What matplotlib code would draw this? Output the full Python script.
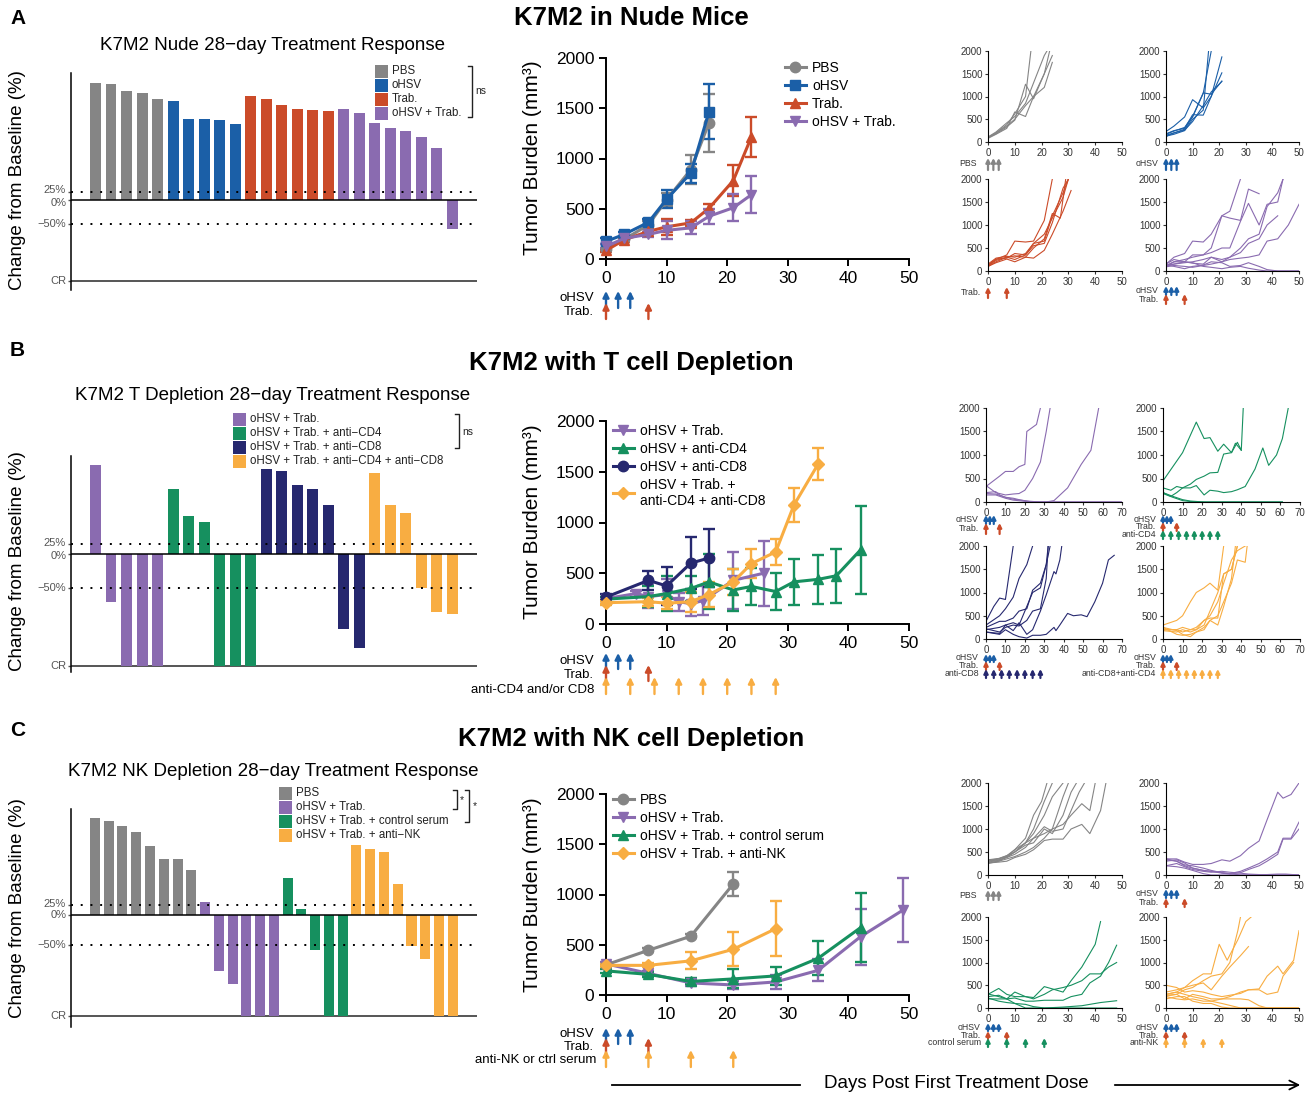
import numpy as np
import matplotlib
matplotlib.use("Agg")
import matplotlib.pyplot as plt
import matplotlib.transforms as mtransforms
from matplotlib.lines import Line2D
from matplotlib.patches import Rectangle, FancyArrowPatch

plt.rcParams['font.family'] = ['Liberation Sans', 'DejaVu Sans']

W, H = 1314, 1097

GRAY = '#858585'
BLUE = '#1b5fa7'
RED = '#cb4b29'
PURPLE = '#8a6bb0'
GREEN = '#16905f'
NAVY = '#26286f'
ORANGE = '#f8ad42'

# ---- waterfall data (plotted scale: 25% line at 16, -50% at -50, CR at -167)
WF_TICK_POS = [16, 0, -50, -167]
WF_TICK_LABELS = ['25%', '0%', '\u221250%', 'CR']

WF_A_LABELS = ['PBS', 'oHSV', 'Trab.', 'oHSV + Trab.']
WF_A_COLORS = [GRAY, BLUE, RED, PURPLE]
WF_A_PBS = [240, 238, 225, 220, 207]
WF_A_OHSV = [204, 166, 166, 165, 157]
WF_A_TRAB = [214, 208, 196, 187, 185, 183]
WF_A_COMBO = [187, 179, 159, 148, 142, 130, 107, -60]

WF_B_LABELS = ['oHSV + Trab.', 'oHSV + Trab. + anti\u2212CD4',
               'oHSV + Trab. + anti\u2212CD8', 'oHSV + Trab. + anti\u2212CD4 + anti\u2212CD8']
WF_B_COLORS = [PURPLE, GREEN, NAVY, ORANGE]
WF_B_COMBO = [133, -72, -167, -167, -167]
WF_B_CD4 = [98, 58, 49, -167, -167, -167]
WF_B_CD8 = [127, 124, 104, 98, 73, -111, -140]
WF_B_BOTH = [122, 74, 62, -50, -87, -90]

WF_C_LABELS = ['PBS', 'oHSV + Trab.', 'oHSV + Trab. + control serum', 'oHSV + Trab. + anti\u2212NK']
WF_C_COLORS = [GRAY, PURPLE, GREEN, ORANGE]
WF_C_PBS = [159, 154, 146, 136, 113, 91, 91, 74]
WF_C_COMBO = [21, -92, -114, -167, -167, -167]
WF_C_CTRL = [60, 9, -58, -167, -167]
WF_C_NK = [115, 108, 103, 51, -51, -73, -167, -167]

# ---- mean tumour burden (days, mean, sem)
A_PBS = ([0, 3, 7, 10, 14, 17], [95, 195, 340, 590, 890, 1355], [15, 30, 40, 65, 140, 290])
A_OHSV = ([0, 3, 7, 10, 14, 17], [175, 245, 365, 595, 855, 1465], [30, 25, 30, 90, 95, 275])
A_TRAB = ([0, 3, 7, 10, 14, 17, 21, 24], [85, 190, 275, 320, 360, 505, 780, 1215],
          [15, 20, 25, 80, 30, 40, 155, 200])
A_COMBO = ([0, 3, 7, 10, 14, 17, 21, 24], [125, 205, 245, 285, 310, 425, 510, 640],
           [20, 25, 25, 90, 65, 75, 135, 185])

B_COMBO = ([0, 5, 7, 10, 12, 14, 16, 21, 26], [250, 300, 270, 290, 220, 200, 230, 430, 500],
           [20, 30, 110, 150, 90, 120, 140, 280, 320])
B_CD4 = ([0, 7, 10, 14, 17, 21, 24, 28, 31, 35, 38, 42],
         [245, 270, 300, 350, 415, 335, 370, 320, 415, 440, 475, 730],
         [20, 100, 170, 120, 270, 210, 180, 180, 230, 240, 265, 430])
B_CD8 = ([0, 7, 10, 14, 17], [265, 430, 375, 600, 650], [30, 95, 190, 260, 290])
B_BOTH = ([0, 7, 10, 14, 17, 21, 24, 28, 31, 35],
          [210, 220, 205, 220, 290, 415, 595, 710, 1170, 1575],
          [20, 40, 60, 100, 120, 130, 140, 130, 165, 160])

C_PBS = ([0, 7, 14, 21], [300, 445, 585, 1105], [15, 20, 20, 120])
C_COMBO = ([0, 7, 14, 21, 28, 35, 42, 49], [310, 215, 120, 100, 130, 245, 580, 845],
           [20, 25, 35, 40, 70, 110, 280, 315])
C_CTRL = ([0, 7, 14, 21, 28, 35, 42], [240, 205, 135, 160, 190, 365, 670],
          [20, 25, 30, 95, 90, 170, 340])
C_NK = ([0, 7, 14, 21, 28], [295, 295, 340, 455, 660], [15, 20, 85, 170, 275])

# ---- dosing days
PBS_DAYS = [0, 2, 4]
OHSV_DAYS = [0, 2, 4]
TRAB_DAYS = [0, 7]
CD_DAYS = [0, 4, 8, 12, 16, 20, 24, 28]
NK_DAYS = [0, 7, 14, 21]

# ---- individual mice (days, volume)
SP_A_PBS = [
    ([0, 3, 7, 10, 14, 16], [90, 200, 380, 620, 1000, 2000]),
    ([0, 3, 7, 10, 14, 17, 21, 23], [100, 180, 330, 480, 1270, 950, 1500, 2000]),
    ([0, 3, 7, 10, 14, 17, 21, 24], [80, 170, 300, 660, 560, 1000, 1500, 1900]),
    ([0, 3, 7, 10, 14, 17, 21, 24], [100, 200, 350, 500, 800, 1000, 1200, 1750]),
    ([0, 3, 7, 10, 14, 17, 21, 22], [110, 220, 420, 560, 850, 1300, 1900, 2000]),
]
SP_A_OHSV = [
    ([0, 3, 7, 10, 14, 17], [150, 200, 280, 550, 1070, 2000]),
    ([0, 3, 7, 10, 14, 16], [130, 170, 250, 500, 700, 2000]),
    ([0, 3, 7, 10, 14, 17, 21], [230, 350, 550, 930, 750, 1000, 1870]),
    ([0, 3, 7, 10, 14, 17, 21], [180, 250, 300, 600, 590, 1000, 1520]),
    ([0, 3, 7, 10, 14, 17, 21], [120, 200, 260, 450, 800, 1100, 1330]),
    ([0, 3, 7, 10, 14, 17, 21], [170, 240, 320, 560, 1080, 1050, 1340]),
]
SP_A_TRAB = [
    ([0, 3, 7, 10, 14, 17, 21, 24], [120, 250, 350, 650, 630, 650, 1100, 2000]),
    ([0, 3, 7, 10, 14, 17, 21, 24, 28, 30], [100, 200, 300, 250, 350, 600, 650, 1200, 1700, 2000]),
    ([0, 3, 7, 10, 14, 17, 21, 24, 28, 31], [100, 180, 260, 200, 300, 280, 450, 800, 1300, 1750]),
    ([0, 3, 7, 10, 14, 17, 21, 24, 28, 30], [130, 260, 280, 380, 350, 550, 600, 1050, 1800, 2000]),
    ([0, 3, 7, 10, 14, 17, 21, 24, 27, 29], [110, 230, 300, 330, 300, 500, 700, 1250, 1150, 2000]),
    ([0, 3, 7, 10, 14, 17, 21, 24, 28, 30], [150, 280, 320, 300, 380, 600, 800, 1150, 1600, 2000]),
]
SP_A_COMBO = [
    ([0, 3, 7, 10, 14, 17, 21, 24, 28], [150, 300, 380, 650, 630, 800, 1200, 1300, 2000]),
    ([0, 3, 7, 10, 14, 17, 21, 24, 28, 31, 35], [100, 200, 200, 350, 350, 500, 1200, 1150, 1100, 1780, 1680]),
    ([0, 3, 7, 10, 14, 17, 21, 24, 28, 31, 35, 38, 42, 44],
     [120, 200, 250, 300, 350, 400, 500, 500, 1080, 1470, 1000, 1450, 1500, 2000]),
    ([0, 3, 7, 10, 14, 17, 21, 24, 28, 31, 35, 38, 42, 44],
     [130, 150, 200, 170, 150, 300, 200, 300, 500, 700, 800, 1400, 1700, 2000]),
    ([0, 3, 7, 10, 14, 17, 21, 24, 28, 31, 35, 38, 42],
     [100, 150, 180, 200, 250, 300, 250, 300, 400, 600, 700, 1000, 1200]),
    ([0, 3, 7, 10, 14, 17, 21, 24, 28, 31, 35, 38, 42, 46, 50],
     [90, 120, 100, 80, 120, 150, 200, 250, 280, 300, 350, 650, 700, 1000, 1450]),
    ([0, 3, 7, 10, 14, 17, 21, 24, 28, 31, 35, 38, 42, 50],
     [150, 250, 200, 180, 100, 80, 50, 80, 100, 60, 20, 0, 0, 0]),
    ([0, 3, 7, 10, 14, 17, 21, 24, 28, 31, 35, 38, 42, 50],
     [130, 100, 50, 100, 130, 200, 180, 100, 120, 180, 100, 30, 0, 0]),
]

SP_B_COMBO = [
    ([0, 7, 10, 14, 17, 20, 21, 26, 28], [330, 550, 650, 650, 750, 800, 1500, 1650, 2000]),
    ([0, 5, 10, 14, 17, 20, 24, 28, 31, 33], [350, 200, 150, 170, 180, 250, 500, 850, 1500, 2000]),
    ([0, 5, 7, 10, 14, 17, 21, 24, 28, 31, 35, 42, 49, 54, 58],
     [200, 220, 150, 100, 80, 50, 20, 0, 0, 0, 30, 300, 800, 1100, 2000]),
    ([0, 5, 10, 14, 21, 28, 35, 70], [180, 170, 100, 60, 20, 0, 0, 0]),
    ([0, 5, 10, 14, 21, 28, 35, 70], [150, 150, 80, 40, 10, 0, 0, 0]),
]
SP_B_CD4 = [
    ([0, 10, 17, 21, 24, 28, 31, 35, 38, 40, 41],
     [450, 1050, 1700, 1350, 1370, 1080, 1230, 1050, 1270, 1100, 2000]),
    ([0, 4, 7, 10, 14, 17, 21, 24, 28, 31, 35, 38, 42, 47, 51, 54, 58, 61, 64],
     [300, 250, 330, 300, 300, 350, 150, 250, 230, 200, 220, 260, 330, 700, 1150, 780, 1000, 1350, 2000]),
    ([0, 4, 7, 10, 14, 17, 21, 24, 28, 31, 35, 37, 40],
     [200, 120, 200, 300, 380, 480, 550, 620, 630, 1020, 1050, 1250, 1100]),
    ([0, 5, 10, 14, 21, 28, 61], [200, 120, 50, 20, 0, 0, 0]),
    ([0, 5, 10, 14, 21, 61], [180, 100, 30, 10, 0, 0]),
]
SP_B_CD8 = [
    ([0, 4, 7, 10, 14], [380, 700, 880, 850, 2000]),
    ([0, 7, 10, 14, 17, 21, 24], [300, 500, 650, 900, 1300, 1600, 2000]),
    ([0, 7, 10, 14, 17, 21, 24, 28, 31, 32], [250, 380, 380, 450, 600, 650, 1050, 1200, 1600, 2000]),
    ([0, 7, 10, 14, 17, 21, 24, 28, 31, 33], [200, 250, 300, 350, 300, 700, 1000, 1100, 1600, 2000]),
    ([0, 7, 10, 14, 17, 21, 24, 28, 31, 32], [220, 150, 250, 300, 280, 400, 600, 650, 1300, 2000]),
    ([0, 7, 10, 14, 17, 21, 24, 28, 31, 35, 36, 38, 39],
     [150, 120, 300, 180, 350, 100, 200, 600, 950, 1450, 1400, 1700, 2000]),
    ([0, 7, 10, 14, 17, 21, 24, 28, 31, 35, 36, 38, 42, 45, 49, 52, 56, 60, 63, 66],
     [150, 100, 200, 100, 50, 20, 80, 80, 100, 250, 180, 300, 550, 500, 520, 480, 800, 1200, 1700, 1800]),
]
SP_B_BOTH = [
    ([0, 7, 10, 14, 17, 21, 24, 28, 31], [300, 400, 500, 800, 1000, 1100, 1200, 1050, 2000]),
    ([0, 7, 10, 14, 17, 21, 24, 28, 31, 35, 38], [200, 200, 250, 200, 200, 300, 600, 1000, 1400, 1500, 2000]),
    ([0, 7, 10, 14, 17, 21, 24, 28, 31, 35, 38, 42],
     [180, 150, 200, 150, 200, 400, 500, 800, 1200, 1700, 1900, 2000]),
    ([0, 7, 10, 14, 17, 21, 24, 28, 31, 35, 38, 42, 43],
     [250, 100, 80, 100, 150, 250, 400, 500, 800, 1200, 1700, 1650, 2000]),
    ([0, 7, 10, 14, 17, 21, 24, 28, 31, 35, 38], [200, 200, 150, 200, 250, 400, 450, 450, 1400, 1500, 2000]),
    ([0, 7, 10, 14, 17, 21, 24, 28, 31, 35, 37], [250, 180, 100, 50, 150, 200, 400, 300, 700, 1300, 2000]),
]

SP_C_PBS = [
    ([0, 4, 7, 10, 14, 17, 20, 22], [300, 350, 400, 550, 800, 1300, 1600, 2000]),
    ([0, 4, 7, 10, 14, 17, 21, 24], [280, 320, 380, 500, 700, 1000, 1600, 2000]),
    ([0, 4, 7, 10, 14, 17, 21, 24, 28], [250, 300, 400, 500, 700, 900, 1300, 1700, 2000]),
    ([0, 4, 7, 10, 14, 17, 21, 24, 28, 31, 33], [320, 350, 420, 500, 650, 700, 1000, 900, 1300, 1800, 2000]),
    ([0, 4, 7, 10, 14, 17, 21, 24, 28, 31, 34, 36],
     [300, 330, 380, 450, 600, 800, 1050, 950, 1000, 1400, 1800, 2000]),
    ([0, 4, 7, 10, 14, 17, 21, 24, 28, 31, 35, 38, 40],
     [270, 300, 350, 400, 500, 600, 800, 1000, 1100, 1300, 1550, 1400, 2000]),
    ([0, 4, 7, 10, 14, 17, 21, 24, 28, 31, 35, 38, 42, 44],
     [260, 280, 300, 380, 450, 550, 750, 780, 780, 1000, 1100, 900, 1400, 2000]),
    ([0, 4, 7, 10, 14, 17, 21, 24, 28, 30], [330, 360, 420, 550, 700, 800, 900, 1000, 1700, 2000]),
]
SP_C_COMBO = [
    ([0, 4, 7, 10, 14, 17, 21, 24, 28, 31, 35, 38, 42, 44, 47, 50],
     [350, 350, 280, 230, 230, 250, 330, 300, 420, 580, 740, 1200, 1800, 1670, 1750, 2000]),
    ([0, 4, 7, 10, 14, 17, 21, 24, 28, 31, 35, 38, 42, 44, 47, 50],
     [330, 300, 220, 200, 150, 100, 50, 30, 80, 150, 250, 350, 500, 800, 800, 1150]),
    ([0, 4, 7, 10, 14, 17, 21, 24, 28, 31, 35, 38, 42, 44, 47, 50],
     [300, 330, 260, 150, 100, 80, 40, 20, 50, 120, 200, 300, 450, 780, 780, 1000]),
    ([0, 4, 7, 10, 14, 17, 21, 50], [200, 180, 150, 100, 30, 0, 0, 0]),
    ([0, 4, 7, 10, 14, 17, 21, 24, 28, 31, 35, 38, 42, 45, 50],
     [200, 250, 180, 120, 80, 60, 80, 60, 40, 20, 10, 10, 20, 20, 0]),
    ([0, 4, 7, 10, 14, 17, 21, 24, 28, 50], [350, 300, 200, 150, 100, 80, 50, 30, 0, 0]),
]
SP_C_CTRL = [
    ([0, 4, 7, 10, 14, 17, 21, 24, 28, 31, 35, 38, 40, 42],
     [300, 430, 300, 250, 250, 230, 470, 420, 350, 600, 900, 1200, 1400, 1900]),
    ([0, 4, 7, 10, 14, 17, 21, 24, 28, 31, 35, 38, 42, 45, 48],
     [250, 280, 200, 350, 250, 200, 300, 400, 450, 500, 600, 750, 750, 900, 1000]),
    ([0, 4, 7, 10, 14, 17, 21, 24, 28, 31, 35, 38, 42, 45, 48],
     [310, 250, 200, 220, 150, 150, 170, 170, 170, 250, 300, 550, 700, 1000, 1380]),
    ([0, 4, 7, 10, 14, 17, 21, 28, 35, 42, 48], [220, 150, 120, 100, 80, 30, 0, 20, 50, 120, 160]),
    ([0, 4, 7, 10, 14, 48], [200, 200, 200, 100, 0, 0]),
]
SP_C_NK = [
    ([0, 4, 7, 10, 14, 17, 20, 23, 27, 30, 32], [300, 350, 450, 600, 750, 750, 1400, 1050, 1500, 1900, 2000]),
    ([0, 4, 7, 10, 14, 17, 21, 24, 27, 28], [260, 300, 400, 450, 600, 700, 750, 1000, 1700, 2000]),
    ([0, 4, 7, 10, 14, 17, 21, 24, 28, 31], [350, 400, 450, 500, 550, 400, 700, 900, 1150, 1350]),
    ([0, 4, 7, 10, 14, 17, 21, 24, 28, 31, 35, 38, 42, 44, 48, 50],
     [500, 450, 350, 380, 350, 300, 250, 280, 320, 400, 420, 700, 920, 750, 1050, 1700]),
    ([0, 4, 7, 10, 14, 17, 21, 24, 28, 31, 35, 38, 42, 44, 48],
     [280, 300, 200, 300, 250, 200, 200, 250, 350, 400, 400, 300, 350, 700, 1000]),
    ([0, 4, 7, 10, 14, 17, 21, 24, 28, 31, 35, 38, 50], [250, 200, 180, 200, 150, 150, 200, 200, 200, 180, 50, 0, 0]),
    ([0, 4, 7, 10, 14, 17, 21, 24, 50], [200, 250, 250, 150, 100, 100, 20, 0, 0]),
    ([0, 4, 7, 10, 14, 17, 21, 28, 50], [300, 350, 300, 250, 200, 150, 100, 0, 0]),
]

fig = plt.figure(figsize=(W / 100, H / 100), dpi=100)
pxT = mtransforms.Affine2D().scale(1 / W, -1 / H).translate(0, 1) + fig.transFigure


def px_axes(x0, y0, x1, y1):
    return fig.add_axes([x0 / W, 1 - y1 / H, (x1 - x0) / W, (y1 - y0) / H])


def ftext(x, y, s, **kw):
    kw.setdefault('va', 'center')
    fig.text(x, y, s, transform=pxT, **kw)


def waterfall(box, groups, colors, ylim, xlim, width, label_dy):
    ax = px_axes(*box)
    vals = [v for g in groups for v in g]
    cols = [c for g, c in zip(groups, colors) for _ in g]
    ax.bar(np.arange(len(vals)), vals, width=width, color=cols, zorder=2)
    ax.axhline(0, color='black', lw=1.1, zorder=3)
    ax.axhline(WF_TICK_POS[3], color='#555555', lw=1.4, zorder=1)
    for yv in (WF_TICK_POS[0], WF_TICK_POS[2]):
        ax.axhline(yv, color='black', lw=1.4, ls=(0, (1, 4)), zorder=3)
    ax.set_xlim(*xlim)
    ax.set_ylim(*ylim)
    for s in ('top', 'right', 'bottom'):
        ax.spines[s].set_visible(False)
    ax.spines['left'].set_linewidth(1.1)
    ax.set_xticks([])
    ax.set_yticks(WF_TICK_POS, [''] * 4)
    ax.tick_params(axis='y', length=2.5, width=1, color='#555555')
    for pos, lab, dy in zip(WF_TICK_POS, WF_TICK_LABELS, label_dy):
        ax.annotate(lab, xy=(0, pos), xycoords=('axes fraction', 'data'),
                    xytext=(-3.5, dy), textcoords='offset points', ha='right',
                    va='center', fontsize=8, color='#555555', annotation_clip=False)
    return ax


def wf_legend(x0, y0, labels, colors):
    for i, (lab, col) in enumerate(zip(labels, colors)):
        fig.add_artist(Rectangle((x0, y0 + i * 14 - 6.5), 13, 13, transform=pxT,
                                 color=col, lw=0))
        ftext(x0 + 17, y0 + i * 14, lab, fontsize=8.3, color='#222222')


def bracket(x, y0, y1, text, tx, ty):
    fig.add_artist(Line2D([x - 4, x, x, x - 4], [y0, y0, y1, y1], transform=pxT,
                          color='#222222', lw=1))
    ftext(tx, ty, text, fontsize=7.5, color='#222222')


def growth(box, series, legend_xy):
    ax = px_axes(*box)
    handles = []
    for label, color, marker, ms, (days, mean, sem) in series:
        ax.errorbar(days, mean, yerr=sem, color=color, marker=marker, ms=ms, lw=2.2,
                    elinewidth=1.7, capsize=4.5, capthick=1.7, clip_on=False, zorder=3)
        handles.append(Line2D([], [], color=color, marker=marker, ms=ms, lw=2.2, label=label))
    ax.set_xlim(0, 50)
    ax.set_ylim(0, 2000)
    ax.set_xticks(range(0, 51, 10))
    ax.set_yticks(range(0, 2001, 500))
    for s in ('top', 'right'):
        ax.spines[s].set_visible(False)
    for s in ('left', 'bottom'):
        ax.spines[s].set_linewidth(1.4)
    ax.tick_params(length=5, width=1.4, labelsize=12.5)
    ax.legend(handles=handles, loc='upper left', bbox_to_anchor=legend_xy,
              bbox_transform=pxT, frameon=False, fontsize=10, handlelength=1.5,
              handletextpad=0.45, labelspacing=0.28, borderaxespad=0, borderpad=0)
    return ax


def arrows(ax, days, color, y_tail, y_tip, lw=1.7, ms=9):
    for d in days:
        ax.annotate('', xy=(d, y_tip), xytext=(d, y_tail),
                    xycoords=(ax.transData, pxT), textcoords=(ax.transData, pxT),
                    arrowprops=dict(arrowstyle='-|>', color=color, lw=lw,
                                    mutation_scale=ms, shrinkA=0, shrinkB=0),
                    annotation_clip=False)


def spag(box, curves, color, xmax):
    ax = px_axes(*box)
    for d, v in curves:
        ax.plot(d, v, color=color, lw=0.8)
    ax.set_xlim(0, xmax)
    ax.set_ylim(0, 2000)
    ax.set_xticks(range(0, xmax + 1, 10))
    ax.set_yticks(range(0, 2001, 500))
    for s in ('top', 'right'):
        ax.spines[s].set_visible(False)
    for s in ('left', 'bottom'):
        ax.spines[s].set_linewidth(0.8)
    ax.tick_params(length=2.5, width=0.8, labelsize=7, pad=1.5, colors='#333333')
    return ax


def spag_rows(ax, x_axis, rows):
    for label, color, days, y_tail, y_tip in rows:
        arrows(ax, days, color, y_tail, y_tip, lw=1.6, ms=6)
        ftext(x_axis - 7, (y_tail + y_tip) / 2, label, fontsize=6.3, ha='right', color='#333333')


# ---------------- panel A ----------------
ftext(10, 18, 'A', fontsize=15, fontweight='bold')
ftext(631, 18, 'K7M2 in Nude Mice', fontsize=18.5, fontweight='bold', ha='center')
waterfall((71, 73, 477, 290), [WF_A_PBS, WF_A_OHSV, WF_A_TRAB, WF_A_COMBO], WF_A_COLORS,
          (-185, 261), (-1.59, 24.6), 0.69, (1.5, -2.5, 0, 0))
ftext(273, 45, 'K7M2 Nude 28\u2212day Treatment Response', fontsize=13.5, ha='center')
ftext(18, 180, 'Change from Baseline (%)', fontsize=13.5, rotation=90, ha='center')
wf_legend(375, 71, WF_A_LABELS, WF_A_COLORS)
bracket(472, 66, 117, 'ns', 475, 91)

ax = growth((606, 58, 909, 259), [
    ('PBS', GRAY, 'o', 7.5, A_PBS), ('oHSV', BLUE, 's', 7.5, A_OHSV),
    ('Trab.', RED, '^', 7.5, A_TRAB), ('oHSV + Trab.', PURPLE, 'v', 7.5, A_COMBO)],
    (785, 61))
ftext(533, 158, 'Tumor Burden (mm\u00b3)', fontsize=15, rotation=90, ha='center')
arrows(ax, OHSV_DAYS, BLUE, 308, 291)
arrows(ax, TRAB_DAYS, RED, 319, 303)
ftext(594, 298, 'oHSV', fontsize=9.5, ha='right')
ftext(594, 312, 'Trab.', fontsize=9.5, ha='right')

s = spag((988, 51, 1122, 142), SP_A_PBS, GRAY, 50)
spag_rows(s, 984, [('PBS', GRAY, PBS_DAYS, 170, 158)])
s = spag((1166, 51, 1299, 142), SP_A_OHSV, BLUE, 50)
spag_rows(s, 1166, [('oHSV', BLUE, OHSV_DAYS, 170, 158)])
s = spag((988, 179, 1122, 271), SP_A_TRAB, RED, 50)
spag_rows(s, 988, [('Trab.', RED, TRAB_DAYS, 298, 287)])
s = spag((1166, 179, 1299, 271), SP_A_COMBO, PURPLE, 50)
spag_rows(s, 1166, [('oHSV', BLUE, OHSV_DAYS, 295, 286), ('Trab.', RED, TRAB_DAYS, 304, 294)])

# ---------------- panel B ----------------
ftext(10, 350, 'B', fontsize=15, fontweight='bold')
ftext(631, 363, 'K7M2 with T cell Depletion', fontsize=18.5, fontweight='bold', ha='center')
waterfall((71, 456, 477, 672), [WF_B_COMBO, WF_B_CD4, WF_B_CD8, WF_B_BOTH], WF_B_COLORS,
          (-176, 147), (-1.59, 24.6), 0.69, (0.5, -1, 0, 0))
ftext(273, 396, 'K7M2 T Depletion 28\u2212day Treatment Response', fontsize=13.5, ha='center')
ftext(18, 561, 'Change from Baseline (%)', fontsize=13.5, rotation=90, ha='center')
wf_legend(233, 419, WF_B_LABELS, WF_B_COLORS)
bracket(459, 414, 448, 'ns', 462, 432)

ax = growth((606, 421, 909, 624), [
    ('oHSV + Trab.', PURPLE, 'v', 7.5, B_COMBO), ('oHSV + anti-CD4', GREEN, '^', 7.5, B_CD4),
    ('oHSV + anti-CD8', NAVY, 'o', 7.5, B_CD8),
    ('oHSV + Trab. +\nanti-CD4 + anti-CD8', ORANGE, 'D', 6.5, B_BOTH)],
    (613, 424))
ftext(533, 522, 'Tumor Burden (mm\u00b3)', fontsize=15, rotation=90, ha='center')
arrows(ax, OHSV_DAYS, BLUE, 669, 653)
arrows(ax, TRAB_DAYS, RED, 681, 665)
arrows(ax, CD_DAYS, ORANGE, 694, 677)
ftext(594, 661, 'oHSV', fontsize=9.5, ha='right')
ftext(594, 675, 'Trab.', fontsize=9.5, ha='right')
ftext(594, 690, 'anti-CD4 and/or CD8', fontsize=9.5, ha='right')

s = spag((986, 408, 1122, 502), SP_B_COMBO, PURPLE, 70)
spag_rows(s, 986, [('oHSV', BLUE, OHSV_DAYS, 524, 515), ('Trab.', RED, TRAB_DAYS, 534, 523)])
s = spag((1163, 408, 1300, 502), SP_B_CD4, GREEN, 70)
spag_rows(s, 1163, [('oHSV', BLUE, OHSV_DAYS, 523, 515), ('Trab.', RED, TRAB_DAYS, 531, 522),
                    ('anti-CD4', GREEN, CD_DAYS, 539, 530)])
s = spag((986, 546, 1122, 639), SP_B_CD8, NAVY, 70)
spag_rows(s, 986, [('oHSV', BLUE, OHSV_DAYS, 662, 654), ('Trab.', RED, TRAB_DAYS, 670, 661),
                   ('anti-CD8', NAVY, CD_DAYS, 678, 669)])
s = spag((1163, 546, 1300, 639), SP_B_BOTH, ORANGE, 70)
spag_rows(s, 1163, [('oHSV', BLUE, OHSV_DAYS, 662, 654), ('Trab.', RED, TRAB_DAYS, 670, 661),
                    ('anti-CD8+anti-CD4', ORANGE, CD_DAYS, 678, 669)])

# ---------------- panel C ----------------
ftext(10, 730, 'C', fontsize=15, fontweight='bold')
ftext(631, 739, 'K7M2 with NK cell Depletion', fontsize=18.5, fontweight='bold', ha='center')
waterfall((71, 809, 477, 1027), [WF_C_PBS, WF_C_COMBO, WF_C_CTRL, WF_C_NK], WF_C_COLORS,
          (-185, 174), (-1.74, 27.76), 0.73, (0.5, -0.5, 0, 0))
ftext(273, 772, 'K7M2 NK Depletion 28\u2212day Treatment Response', fontsize=13.5, ha='center')
ftext(18, 908, 'Change from Baseline (%)', fontsize=13.5, rotation=90, ha='center')
wf_legend(279, 793, WF_C_LABELS, WF_C_COLORS)
bracket(457, 790, 809, '*', 460, 800)
bracket(469, 790, 822, '*', 473, 806)

ax = growth((606, 794, 909, 995), [
    ('PBS', GRAY, 'o', 7.5, C_PBS), ('oHSV + Trab.', PURPLE, 'v', 7.5, C_COMBO),
    ('oHSV + Trab. + control serum', GREEN, '^', 7.5, C_CTRL),
    ('oHSV + Trab. + anti-NK', ORANGE, 'D', 6.5, C_NK)],
    (613, 793))
ftext(533, 895, 'Tumor Burden (mm\u00b3)', fontsize=15, rotation=90, ha='center')
arrows(ax, OHSV_DAYS, BLUE, 1044, 1028)
arrows(ax, TRAB_DAYS, RED, 1055, 1038)
arrows(ax, NK_DAYS, ORANGE, 1067, 1050)
ftext(594, 1034, 'oHSV', fontsize=9.5, ha='right')
ftext(594, 1047, 'Trab.', fontsize=9.5, ha='right')
ftext(596, 1060, 'anti-NK or ctrl serum', fontsize=9.5, ha='right')

s = spag((988, 783, 1122, 875), SP_C_PBS, GRAY, 50)
spag_rows(s, 984, [('PBS', GRAY, PBS_DAYS, 900, 890)])
s = spag((1166, 783, 1299, 875), SP_C_COMBO, PURPLE, 50)
spag_rows(s, 1166, [('oHSV', BLUE, OHSV_DAYS, 898, 889), ('Trab.', RED, TRAB_DAYS, 907, 898)])
s = spag((988, 917, 1122, 1008), SP_C_CTRL, GREEN, 50)
spag_rows(s, 988, [('oHSV', BLUE, OHSV_DAYS, 1031, 1023), ('Trab.', RED, TRAB_DAYS, 1039, 1031),
                   ('control serum', GREEN, NK_DAYS, 1047, 1038)])
s = spag((1166, 917, 1299, 1008), SP_C_NK, ORANGE, 50)
spag_rows(s, 1166, [('oHSV', BLUE, OHSV_DAYS, 1031, 1023), ('Trab.', RED, TRAB_DAYS, 1039, 1031),
                    ('anti-NK', ORANGE, NK_DAYS, 1047, 1038)])

# bottom axis caption
ftext(956, 1084, 'Days Post First Treatment Dose', fontsize=13.5, ha='center')
fig.add_artist(Line2D([612, 800], [1085, 1085], transform=pxT, color='black', lw=1.3))
fig.add_artist(FancyArrowPatch((1112, 1085), (1303, 1085), transform=pxT,
                               arrowstyle='->', mutation_scale=16, lw=1.3, color='black'))

fig.savefig('out.png', dpi=100)
